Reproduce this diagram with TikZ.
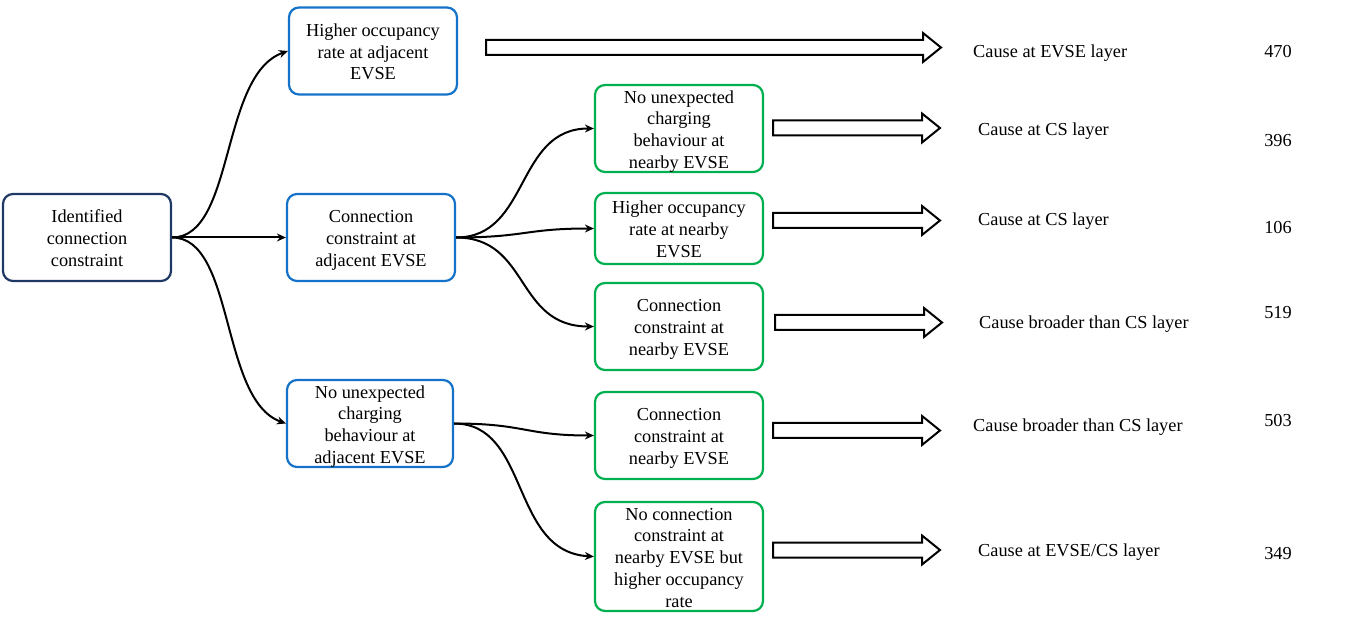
\documentclass[tikz,border=0pt]{standalone}
\usepackage{fontspec}
\setmainfont{Liberation Serif}
\usetikzlibrary{arrows.meta}
\definecolor{navy}{RGB}{32,56,100}
\definecolor{boxblue}{RGB}{20,115,200}
\definecolor{boxgreen}{RGB}{0,176,80}
\newcommand{\btext}[1]{\raisebox{-2.8pt}[\height][\depth]{\begin{tabular}{@{}c@{}}#1\end{tabular}}}
\begin{document}
\begin{tikzpicture}[x=1pt,y=-1pt,
  txt/.style={font=\fontsize{18.3}{21.7}\selectfont},
  box/.style={txt, draw, rounded corners=10pt, line width=2.2pt, inner sep=0pt, minimum width=168pt, minimum height=87pt},
  idbox/.style={box, draw=navy},
  bbox/.style={box, draw=boxblue},
  gbox/.style={box, draw=boxgreen},
  conn/.style={line width=2pt, -{Stealth[length=9pt,width=8pt]}},
  barrow/.style={draw, line width=2pt, fill=white, line join=miter},
  lab/.style={txt, anchor=west, inner sep=0pt, execute at begin node=\strut},
  num/.style={txt, inner sep=0pt, execute at begin node=\strut}]
\useasboundingbox (0,0) rectangle (1350,617);

% boxes
\node[idbox] (id) at (87,237.5) {\btext{Identified\\connection\\constraint}};
\node[bbox] (b1) at (373,51) {\btext{Higher occupancy\\rate at adjacent\\EVSE}};
\node[bbox] (b2) at (371,237.5) {\btext{Connection\\constraint at\\adjacent EVSE}};
\node[bbox, minimum width=166pt] (b3) at (370,423.5) {\btext{No unexpected\\charging\\behaviour at\\adjacent EVSE}};
\node[gbox] (g1) at (679,128.5) {\btext{No unexpected\\charging\\behaviour at\\nearby EVSE}};
\node[gbox, minimum height=71pt] (g2) at (679,228.5) {\btext{Higher occupancy\\rate at nearby\\EVSE}};
\node[gbox] (g3) at (679,326.5) {\btext{Connection\\constraint at\\nearby EVSE}};
\node[gbox] (g4) at (679,435.5) {\btext{Connection\\constraint at\\nearby EVSE}};
\node[gbox, minimum height=109pt] (g5) at (679,556.5) {\btext{No connection\\constraint at\\nearby EVSE but\\higher occupancy\\rate}};

% connectors
\draw[conn] (id.east) .. controls (235,237.5) and (220,75) .. (b1.west);
\draw[conn] (id.east) -- (b2.west);
\draw[conn] (id.east) .. controls (235,237.5) and (220,400) .. (b3.west);
\draw[conn] (b2.east) .. controls (530,237.5) and (515,128.5) .. (g1.west);
\draw[conn] (b2.east) .. controls (525,237.5) and (525,228.5) .. (g2.west);
\draw[conn] (b2.east) .. controls (530,237.5) and (515,326.5) .. (g3.west);
\draw[conn] (b3.east) .. controls (525,423.5) and (525,435.5) .. (g4.west);
\draw[conn] (b3.east) .. controls (530,423.5) and (510,552) .. (g5.west);

% block arrows
\foreach \xa/\xb/\yc in {486/941/47.5, 773/940/128, 773/940/220.5, 775/942/322.5, 773/940/430.5, 773/940/550}
  \draw[barrow] (\xa,\yc-7.5) -- (\xb-18,\yc-7.5) -- (\xb-18,\yc-14.5) -- (\xb,\yc)
     -- (\xb-18,\yc+14.5) -- (\xb-18,\yc+7.5) -- (\xa,\yc+7.5) -- cycle;

% result labels
\node[lab] (l1) at (973,53) {Cause at EVSE layer};
\node[lab] (l2) at (978,131) {Cause at CS layer};
\node[lab] (l3) at (978,221) {Cause at CS layer};
\node[lab] (l4) at (979,324) {Cause broader than CS layer};
\node[lab] (l5) at (973,427) {Cause broader than CS layer};
\node[lab] (l6) at (978,552) {Cause at EVSE/CS layer};

% counts
\node[num] (n1) at (1278,53) {470};
\node[num] (n2) at (1278,142) {396};
\node[num] (n3) at (1278,229) {106};
\node[num] (n4) at (1278,314) {519};
\node[num] (n5) at (1278,422) {503};
\node[num] (n6) at (1278,555) {349};
\end{tikzpicture}
\end{document}
